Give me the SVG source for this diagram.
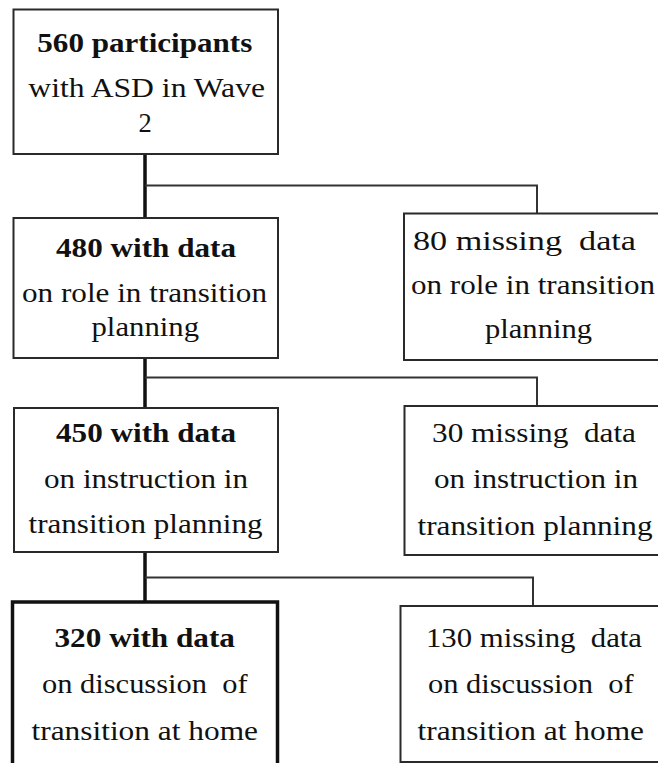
<svg xmlns="http://www.w3.org/2000/svg" width="658" height="763" viewBox="0 0 658 763">
  <style>
    .box { fill: #ffffff; stroke: #2a2a2a; stroke-width: 2; }
    .box-thick { fill: #ffffff; stroke: #111111; stroke-width: 3.5; }
    .trunk { fill: none; stroke: #111111; stroke-width: 3.5; }
    .branch { fill: none; stroke: #333333; stroke-width: 2; }
    .lbl { font-family: 'Liberation Serif', serif; font-size: 26.5px; fill: #111111; }
    .b { font-weight: bold; }
  </style>
  <rect width="658" height="763" fill="#ffffff"/>

  <!-- connectors: thick trunk on the left, thin branches to the right -->
  <g id="connectors">
    <path class="trunk" d="M145 154 V218 M145 358 V408 M145 552 V602"/>
    <path class="branch" d="M145 185.5 H537 V213.5"/>
    <path class="branch" d="M145 377.5 H537 V406"/>
    <path class="branch" d="M145 577.5 H533 V606"/>
  </g>

  <g id="n560">
    <rect class="box" x="13.5" y="9.5" width="264.5" height="144.5"/>
    <text class="lbl b" x="37.3" y="51.7" textLength="215" lengthAdjust="spacingAndGlyphs">560 participants</text>
    <text class="lbl" x="28.3" y="96.7" textLength="236.7" lengthAdjust="spacingAndGlyphs">with ASD in Wave</text>
    <text class="lbl" x="145" y="131.7" text-anchor="middle">2</text>
  </g>

  <g id="n480">
    <rect class="box" x="13.5" y="218" width="264.5" height="140"/>
    <text class="lbl b" x="56" y="257" textLength="180" lengthAdjust="spacingAndGlyphs">480 with data</text>
    <text class="lbl" x="22" y="302" textLength="245" lengthAdjust="spacingAndGlyphs">on role in transition</text>
    <text class="lbl" x="91.5" y="336" textLength="107.5" lengthAdjust="spacingAndGlyphs">planning</text>
  </g>

  <g id="n80">
    <rect class="box" x="404" y="213.5" width="262" height="146.5"/>
    <text class="lbl" xml:space="preserve" x="413" y="250" textLength="223" lengthAdjust="spacingAndGlyphs">80 missing  data</text>
    <text class="lbl" x="411" y="294" textLength="244" lengthAdjust="spacingAndGlyphs">on role in transition</text>
    <text class="lbl" x="485" y="338" textLength="107" lengthAdjust="spacingAndGlyphs">planning</text>
  </g>

  <g id="n450">
    <rect class="box" x="14" y="408" width="264" height="144"/>
    <text class="lbl b" x="56" y="442" textLength="180" lengthAdjust="spacingAndGlyphs">450 with data</text>
    <text class="lbl" x="44" y="488" textLength="204" lengthAdjust="spacingAndGlyphs">on instruction in</text>
    <text class="lbl" x="28.5" y="533" textLength="234" lengthAdjust="spacingAndGlyphs">transition planning</text>
  </g>

  <g id="n30">
    <rect class="box" x="404.5" y="406" width="262" height="149"/>
    <text class="lbl" xml:space="preserve" x="432" y="442" textLength="204" lengthAdjust="spacingAndGlyphs">30 missing  data</text>
    <text class="lbl" x="434" y="488" textLength="204" lengthAdjust="spacingAndGlyphs">on instruction in</text>
    <text class="lbl" x="417.5" y="535" textLength="235" lengthAdjust="spacingAndGlyphs">transition planning</text>
  </g>

  <g id="n320">
    <rect class="box-thick" x="12.5" y="602" width="265" height="180"/>
    <text class="lbl b" x="54.5" y="647" textLength="180.5" lengthAdjust="spacingAndGlyphs">320 with data</text>
    <text class="lbl" xml:space="preserve" x="42" y="693" textLength="205.6" lengthAdjust="spacingAndGlyphs">on discussion  of</text>
    <text class="lbl" x="31.5" y="740" textLength="226.5" lengthAdjust="spacingAndGlyphs">transition at home</text>
  </g>

  <g id="n130">
    <rect class="box" x="400.5" y="606" width="262" height="156"/>
    <text class="lbl" xml:space="preserve" x="426" y="647" textLength="216" lengthAdjust="spacingAndGlyphs">130 missing  data</text>
    <text class="lbl" xml:space="preserve" x="428" y="693" textLength="205.6" lengthAdjust="spacingAndGlyphs">on discussion  of</text>
    <text class="lbl" x="417.5" y="740" textLength="226.5" lengthAdjust="spacingAndGlyphs">transition at home</text>
  </g>
</svg>
